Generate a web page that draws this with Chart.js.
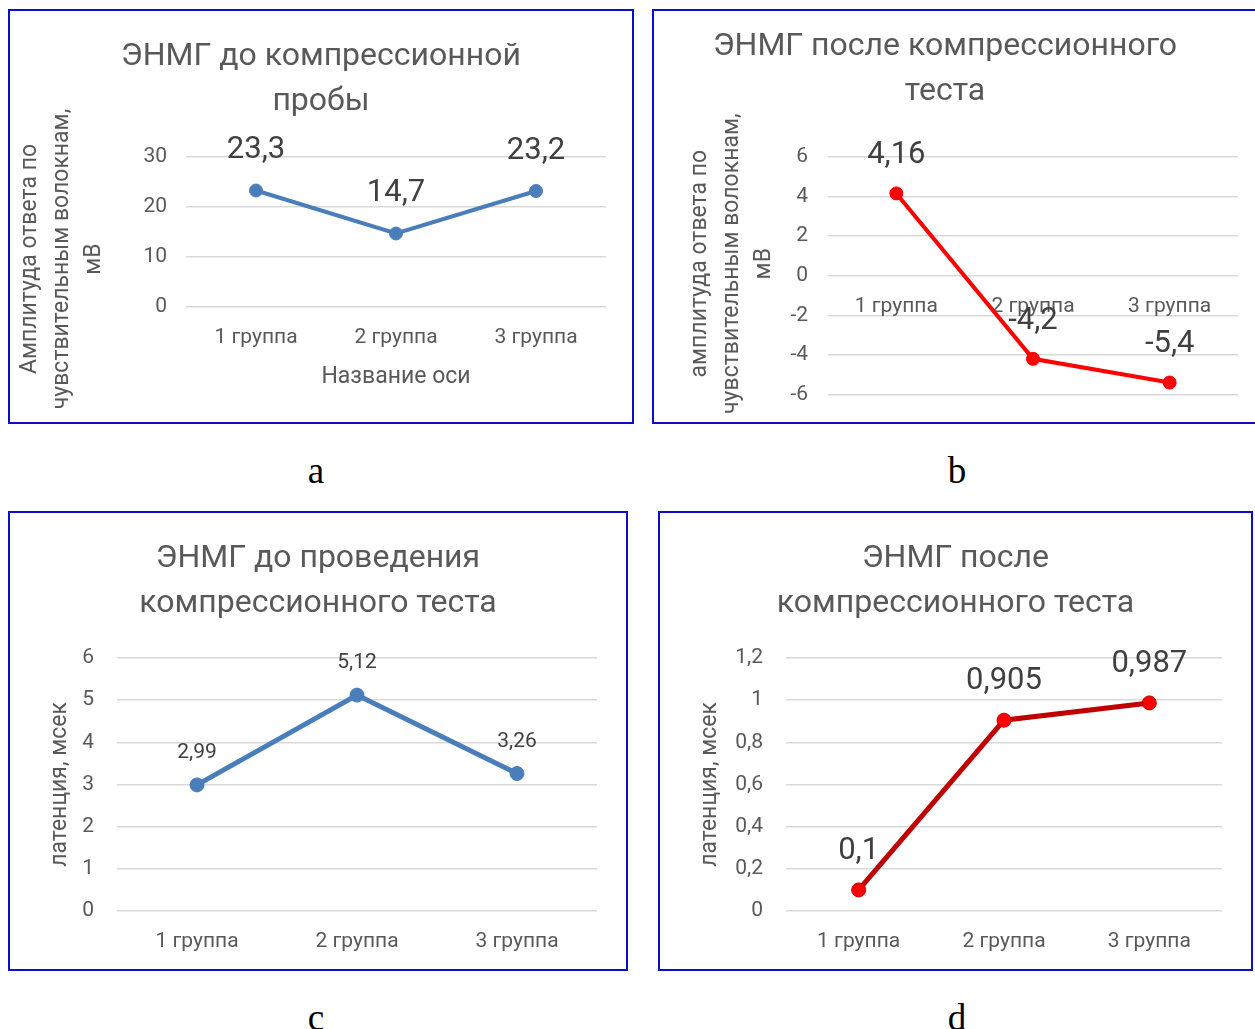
<!DOCTYPE html>
<html lang="ru">
<head>
<meta charset="utf-8">
<title>ЭНМГ</title>
<script src="https://cdn.jsdelivr.net/npm/chart.js@4.4.1/dist/chart.umd.min.js"></script>
<style>
  html, body { margin: 0; padding: 0; background: #fff; }
  body { width: 1255px; height: 1029px; position: relative; overflow: hidden; }
  .panel { position: absolute; border: 2px solid #0c0ccf; background: #fff; overflow: hidden; }
  .panel canvas { display: block; }
  .cap { position: absolute; width: 60px; text-align: center; line-height: 1;
         font-family: 'Liberation Serif', 'Times New Roman', serif; font-size: 37px; color: #000; }
</style>
</head>
<body>
  <div class="panel" style="left:8px;top:9px;width:622px;height:411px"><canvas id="chartA" width="622" height="411"></canvas></div>
  <div class="panel" style="left:652px;top:9px;width:622px;height:411px"><canvas id="chartB" width="622" height="416"></canvas></div>
  <div class="panel" style="left:8px;top:511px;width:616px;height:456px"><canvas id="chartC" width="616" height="456"></canvas></div>
  <div class="panel" style="left:658px;top:511px;width:591px;height:456px"><canvas id="chartD" width="591" height="456"></canvas></div>
  <div class="cap" style="left:286px;top:452px">a</div>
  <div class="cap" style="left:927px;top:452px">b</div>
  <div class="cap" style="left:286px;top:999px">c</div>
  <div class="cap" style="left:927px;top:999px">d</div>

<script>
// --- data ---
const categories = ['1 группа', '2 группа', '3 группа'];

// амплитуда, мВ
const amplitudeBefore = [23.3, 14.7, 23.2];
const amplitudeAfter = [4.16, -4.2, -5.4];

// латентность, мсек
const latencyBefore = [2.99, 5.12, 3.26];
const latencyAfter = [0.1, 0.905, 0.987];

// y axis ranges: [min, max, step]
const rangeA = [0, 30, 10];
const rangeB = [-6, 6, 2];
const rangeC = [0, 6, 1];
const rangeD = [0, 1.2, 0.2];

const titleA = ['ЭНМГ до компрессионной', 'пробы'];
const titleB = ['ЭНМГ после компрессионного', 'теста'];
const titleC = ['ЭНМГ до проведения', 'компрессионного теста'];
const titleD = ['ЭНМГ после', 'компрессионного теста'];

const axisAmplitudeA = ['Амплитуда ответа по', 'чувствительным волокнам,', 'мВ'];
const axisAmplitudeB = ['амплитуда ответа по', 'чувствительным волокнам,', 'мВ'];
const axisLatency = 'латенция, мсек';
const axisCategory = 'Название оси';

Chart.defaults.font.family = 'Roboto, "Open Sans", sans-serif';

// decimal comma, like the russian Excel original
function comma(v) {
    return String(Math.round(v * 1000) / 1000).replace('.', ',');
}

// value labels above every point
const valueLabels = {
    id: 'valueLabels',
    afterDatasetsDraw(chart, args, opts) {
        const ctx = chart.ctx;
        ctx.save();
        ctx.font = opts.size + 'px ' + Chart.defaults.font.family;
        ctx.fillStyle = '#404040';
        ctx.textAlign = 'center';
        ctx.textBaseline = 'middle';
        chart.data.datasets.forEach((ds, i) => {
            chart.getDatasetMeta(i).data.forEach((pt, j) => {
                ctx.fillText(comma(ds.data[j]), pt.x, pt.y - opts.lift);
            });
        });
        ctx.restore();
    }
};

// Excel doesn't center the y title on the plot area, so nudge it
const yTitleShift = {
    id: 'yTitleShift',
    afterLayout(chart, args, opts) {
        const s = chart.scales.y;
        if (!opts.shift || s._nudged) return;
        const draw = s.drawTitle;
        s.drawTitle = function() {
            this.ctx.save();
            this.ctx.translate(0, opts.shift);
            draw.call(this);
            this.ctx.restore();
        };
        s._nudged = true;
    }
};

function lineChart(id, p) {
    const xScale = {
        offset: true,
        grid: { display: false, drawTicks: false },
        border: { display: false },
        ticks: { color: '#595959', font: { size: 21 }, padding: 18 },
        title: p.xTitle ? {
            display: true, text: p.xTitle, color: '#595959',
            font: { size: 23 }, padding: { top: 0, bottom: 31 }
        } : { display: false }
    };
    if (p.xAtZero) {
        xScale.position = { y: 0 };
    } else {
        xScale.afterFit = s => { s.height = p.xHeight; };
    }

    return new Chart(document.getElementById(id), {
        type: 'line',
        data: {
            labels: categories,
            datasets: [{
                data: p.values,
                borderColor: p.line,
                borderWidth: p.lineWidth,
                pointRadius: p.dotRadius,
                pointHoverRadius: p.dotRadius,
                pointBackgroundColor: p.dot,
                pointBorderColor: p.line,
                pointBorderWidth: 1,
                tension: 0
            }]
        },
        plugins: [valueLabels, yTitleShift],
        options: {
            responsive: false,
            animation: false,
            layout: { padding: p.pad },
            plugins: {
                legend: { display: false },
                tooltip: { enabled: false },
                title: {
                    display: true,
                    text: p.title,
                    color: '#595959',
                    font: { size: 32, weight: 'normal', lineHeight: 45 / 32 },
                    padding: p.titlePad
                },
                valueLabels: { size: p.labelSize, lift: p.lift },
                yTitleShift: { shift: p.yTitleShift || 0 }
            },
            scales: {
                x: xScale,
                y: {
                    min: p.range[0],
                    max: p.range[1],
                    afterFit: s => { s.width = p.yWidth; },
                    grid: { color: '#d9d9d9', lineWidth: 1.5, drawTicks: false },
                    border: { display: false },
                    ticks: {
                        stepSize: p.range[2],
                        color: '#595959',
                        font: { size: 21 },
                        padding: p.yTickPad,
                        callback: v => comma(v)
                    },
                    title: {
                        display: true,
                        text: p.yTitle,
                        color: '#595959',
                        font: { size: 23, lineHeight: 32 / 23 },
                        padding: { top: p.yTitleOffset, bottom: 0 }
                    }
                }
            }
        }
    });
}

lineChart('chartA', {
    values: amplitudeBefore, range: rangeA, title: titleA,
    yTitle: axisAmplitudeA, xTitle: axisCategory,
    line: '#4a7ebb', dot: '#4a7ebb', lineWidth: 4, dotRadius: 6.5,
    pad: { left: 26, right: 26, top: 0, bottom: 0 },
    titlePad: { top: 23.5, bottom: 32.5 },
    yWidth: 150, yTickPad: 19, yTitleOffset: -22, yTitleShift: 27, xHeight: 115,
    labelSize: 31, lift: 40
});

// canvas is 5px taller than the frame: the centred x axis keeps extra room below
lineChart('chartB', {
    values: amplitudeAfter, range: rangeB, title: titleB,
    yTitle: axisAmplitudeB, xAtZero: true,
    line: '#ff0000', dot: '#ff0000', lineWidth: 4, dotRadius: 6.5,
    pad: { left: -2, right: 38, top: 0, bottom: 24 },
    titlePad: { top: 13.5, bottom: 42.5 },
    yWidth: 176, yTickPad: 20, yTitleOffset: 32, yTitleShift: -12,
    labelSize: 31, lift: 38
});

lineChart('chartC', {
    values: latencyBefore, range: rangeC, title: titleC,
    yTitle: axisLatency,
    line: '#4a7ebb', dot: '#4a7ebb', lineWidth: 5, dotRadius: 7,
    pad: { left: 29, right: 29, top: 0, bottom: 0 },
    titlePad: { top: 23.5, bottom: 31.5 },
    yWidth: 78, yTickPad: 23, yTitleOffset: 5, xHeight: 58,
    labelSize: 21, lift: 32
});

lineChart('chartD', {
    values: latencyAfter, range: rangeD, title: titleD,
    yTitle: axisLatency,
    line: '#c00000', dot: '#ff0000', lineWidth: 5, dotRadius: 7,
    pad: { left: 29, right: 29, top: 0, bottom: 0 },
    titlePad: { top: 23.5, bottom: 31.5 },
    yWidth: 97, yTickPad: 23, yTitleOffset: 5, xHeight: 58,
    labelSize: 31, lift: 39
});
</script>
</body>
</html>
